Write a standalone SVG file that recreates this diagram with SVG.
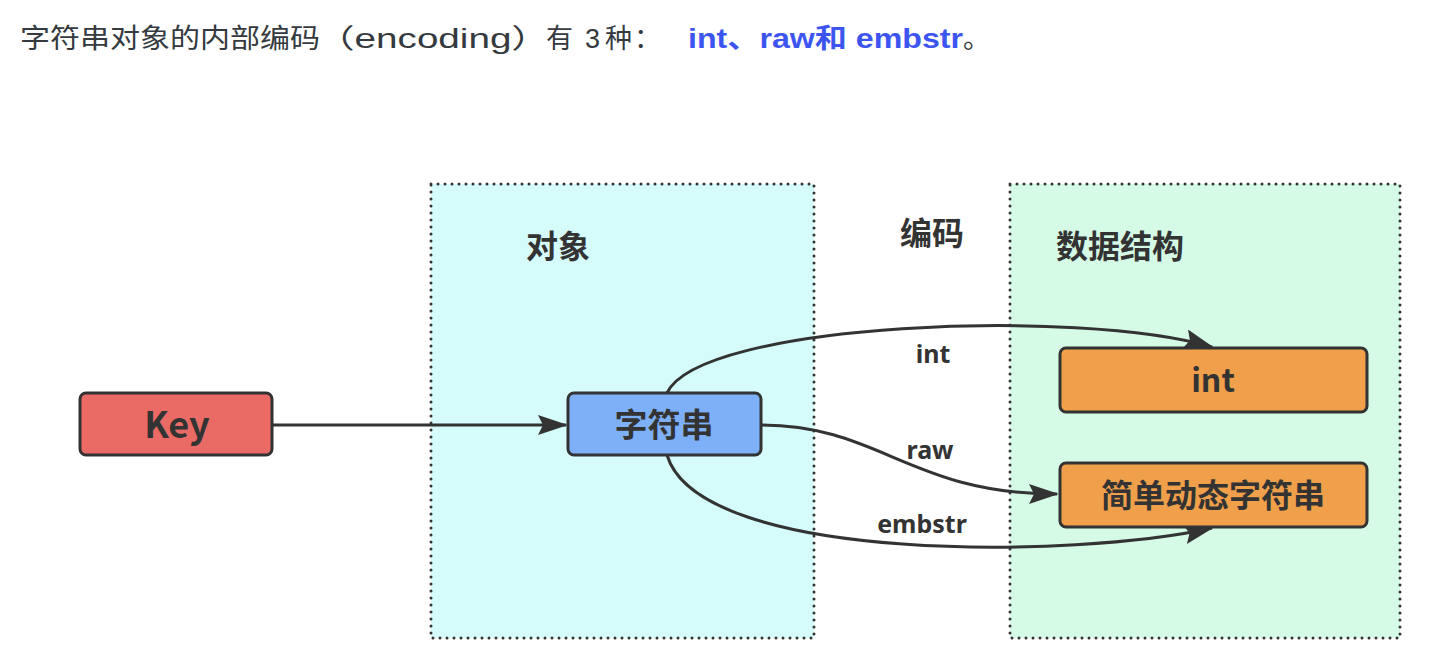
<svg xmlns="http://www.w3.org/2000/svg" width="1434" height="670" viewBox="0 0 1434 670">
<style>
.title{font-family:"Liberation Sans","Noto Sans CJK SC",sans-serif;font-size:27px;fill:#353a40}
.hl{fill:#3d55f0;font-weight:bold}
.zone{stroke:#333;stroke-width:3;stroke-dasharray:0 7;stroke-linecap:round}
.node{stroke:#333;stroke-width:3}
.lbl{font-family:"Noto Sans CJK SC","Noto Sans",sans-serif;font-weight:bold;fill:#333;text-anchor:middle}
.nt{font-size:33px}
.hd{font-size:32px}
.el{font-family:"Noto Sans","Noto Sans CJK SC",sans-serif;font-weight:bold;fill:#333;font-size:25px;text-anchor:middle}
.edge{fill:none;stroke:#333;stroke-width:3}
</style>
<defs>
<marker id="arrb" viewBox="0 0 30 20" refX="28" refY="10" markerWidth="30" markerHeight="20" markerUnits="userSpaceOnUse" orient="auto">
<path d="M0,0 L30,10 L0,20 L5,10 z" fill="#333"/>
</marker>
</defs>
<rect width="1434" height="670" fill="#fff"/>
<g id="title">
<text class="title" x="20" y="48" textLength="300" lengthAdjust="spacingAndGlyphs">字符串对象的内部编码</text>
<text class="title" x="316" y="48" textLength="234" lengthAdjust="spacingAndGlyphs">（encoding）</text>
<text class="title" x="546" y="48">有</text>
<text class="title" x="585" y="48" font-size="28">3</text>
<text class="title" x="605" y="48">种</text>
<text class="title" x="634" y="48" font-family="Noto Sans CJK SC,sans-serif">：</text>
<text class="title hl" x="688" y="48" textLength="275" lengthAdjust="spacingAndGlyphs">int、raw和 embstr</text>
<text class="title" x="963" y="48">。</text>
</g>

<g id="zone-object">
<rect x="431" y="184" width="383" height="454" fill="#d5fbfb" class="zone"/>
<text class="lbl hd" x="558" y="258">对象</text>
</g>
<g id="label-encoding">
<text class="lbl hd" x="932" y="245">编码</text>
</g>
<g id="zone-struct">
<rect x="1010" y="184" width="390" height="454" fill="#d5fbe6" class="zone"/>
<text class="lbl hd" x="1120" y="258">数据结构</text>
</g>

<g id="connectors">
<path class="edge" d="M272,425 L566,425" marker-end="url(#arrb)"/>
<path class="edge" d="M667,393 C700,322 1080,308 1212,347" marker-end="url(#arrb)"/>
<path class="edge" d="M761,425 C880,425 910,494 1057,494" marker-end="url(#arrb)"/>
<path class="edge" d="M667,455 C700,565 1080,558 1212,528" marker-end="url(#arrb)"/>
<text class="el" x="933" y="363">int</text>
<text class="el" x="930" y="459">raw</text>
<text class="el" x="922" y="533">embstr</text>
</g>

<g id="node-key">
<rect class="node" x="80" y="393" width="192" height="62" rx="6" fill="#ea6b66"/>
<text class="lbl" x="177" y="438" font-size="36" font-family="Noto Sans,sans-serif">Key</text>
</g>
<g id="node-string">
<rect class="node" x="568" y="393" width="193" height="62" rx="6" fill="#7eb0f8"/>
<text class="lbl nt" x="664" y="437">字符串</text>
</g>
<g id="node-int">
<rect class="node" x="1060" y="348" width="307" height="64" rx="6" fill="#f0a04b"/>
<text class="lbl" x="1213" y="392" font-size="32" font-family="Noto Sans,sans-serif">int</text>
</g>
<g id="node-sds">
<rect class="node" x="1060" y="463" width="307" height="64" rx="6" fill="#f0a04b"/>
<text class="lbl" x="1213" y="507" font-size="32">简单动态字符串</text>
</g>
</svg>
